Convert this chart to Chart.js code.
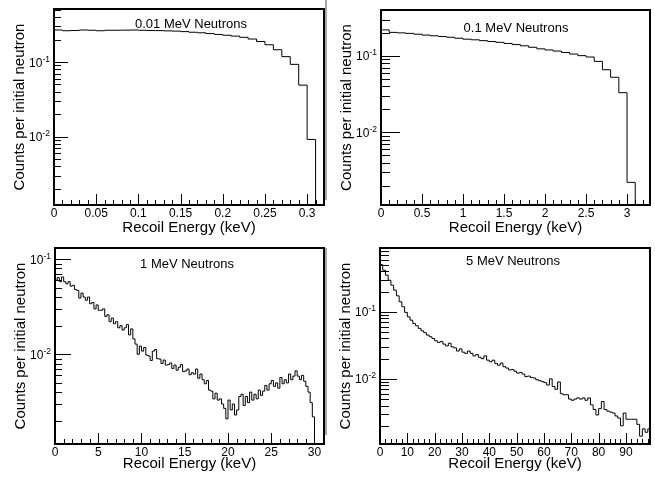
<!DOCTYPE html>
<html>
<head>
<meta charset="utf-8">
<script src="https://cdn.jsdelivr.net/npm/chart.js@4.4.1/dist/chart.umd.min.js"></script>
<style>
  body { margin: 0; background: #fff; }
  #wrap { position: relative; width: 655px; height: 477px; }
  #wrap canvas { position: absolute; left: 0; top: 0; }
  .sep { position: absolute; left: 325px; width: 2px; background: #a8a8a8; z-index: 5; }
</style>
</head>
<body>
<div id="wrap">
  <canvas id="c1" width="655" height="477"></canvas>
  <canvas id="c2" width="655" height="477"></canvas>
  <canvas id="c3" width="655" height="477"></canvas>
  <canvas id="c4" width="655" height="477"></canvas>
  <div class="sep" style="top:0;height:200px"></div>
  <div class="sep" style="top:248px;height:187px"></div>
</div>
<script>
// bin widths (keV)
const binA = 0.01;
const binB = 0.1;
const binC = 0.25;
const binD = 1;

// counts per initial neutron, one value per bin starting at 0 keV
const countsA = [0.268, 0.262, 0.264, 0.268, 0.266, 0.262, 0.266, 0.266, 0.267, 0.268,
  0.266, 0.264, 0.263, 0.261, 0.259, 0.255, 0.250, 0.246, 0.240, 0.234,
  0.228, 0.222, 0.214, 0.203, 0.188, 0.170, 0.146, 0.118, 0.093, 0.049,
  0.0092, 0];

const countsB = [0.220, 0.204, 0.201, 0.198, 0.193, 0.188, 0.184, 0.180, 0.176, 0.171,
  0.166, 0.163, 0.159, 0.155, 0.151, 0.146, 0.141, 0.136, 0.130, 0.124,
  0.120, 0.116, 0.111, 0.106, 0.101, 0.097, 0.085, 0.066, 0.0526, 0.033,
  0.0022, 0, 0];

const countsC = [
  0.060, 0.064, 0.058, 0.065, 0.058, 0.055, 0.058, 0.052,
  0.053, 0.048, 0.047, 0.039, 0.044, 0.040, 0.037, 0.040,
  0.034, 0.035, 0.030, 0.033, 0.029, 0.029, 0.030, 0.025,
  0.026, 0.022, 0.024, 0.021, 0.022, 0.019, 0.020, 0.018,
  0.019, 0.0205, 0.016, 0.0185, 0.0145, 0.0128, 0.0100, 0.0122,
  0.0108, 0.0118, 0.0098, 0.0096, 0.0086, 0.0108, 0.0112, 0.0090,
  0.0089, 0.0080, 0.0087, 0.0077, 0.0078, 0.0081, 0.0071, 0.0077,
  0.0068, 0.0073, 0.0078, 0.0066, 0.0067, 0.0070, 0.0061, 0.0064,
  0.0062, 0.0070, 0.0056, 0.0062, 0.0054, 0.0049, 0.0053, 0.0042,
  0.0041, 0.0034, 0.0039, 0.0033, 0.0034, 0.0030, 0.0027, 0.0021,
  0.0033, 0.0026, 0.0030, 0.0023, 0.0026, 0.0036, 0.0038, 0.0029,
  0.0036, 0.0031, 0.0040, 0.0033, 0.0038, 0.0034, 0.0042, 0.0037,
  0.0041, 0.0047, 0.0042, 0.0049, 0.0053, 0.0046, 0.0050, 0.0044,
  0.0057, 0.0049, 0.0054, 0.0050, 0.0062, 0.0054, 0.0059, 0.0067,
  0.0059, 0.0054, 0.0060, 0.0052, 0.0046, 0.0040, 0.0031, 0.0022,
  0, 0, 0, 0];

const countsD = [0.505, 0.416, 0.351, 0.295, 0.249, 0.210, 0.173, 0.141, 0.119, 0.098,
  0.084, 0.075, 0.067, 0.062, 0.0566, 0.052, 0.0488, 0.045, 0.0425, 0.040,
  0.037, 0.035, 0.036, 0.033, 0.031, 0.034, 0.030, 0.029, 0.026, 0.028,
  0.025, 0.024, 0.026, 0.024, 0.022, 0.023, 0.021, 0.020, 0.022, 0.019,
  0.018, 0.019, 0.017, 0.016, 0.0172, 0.0152, 0.0145, 0.0136, 0.0138, 0.0130,
  0.0122, 0.0125, 0.0118, 0.0108, 0.0110, 0.0105, 0.0103, 0.0097, 0.0094, 0.0091,
  0.0088, 0.0081, 0.0100, 0.0077, 0.0070, 0.0090, 0.0060, 0.0058, 0.0058, 0.0050,
  0.0048, 0.0050, 0.0052, 0.0050, 0.0052, 0.0048, 0.0052, 0.0041, 0.0035, 0.0029,
  0.0036, 0.0046, 0.0035, 0.0033, 0.0032, 0.0031, 0.0028, 0.0026, 0.0020, 0.0031,
  0.0025, 0.0025, 0.0025, 0.0025, 0.0021, 0.0014, 0.0018, 0.0016, 0.0018];

// tick labels
const xLabelsA = ['0', '0.05', '0.1', '0.15', '0.2', '0.25', '0.3'];
const xLabelsB = ['0', '0.5', '1', '1.5', '2', '2.5', '3'];
const xLabelsC = ['0', '5', '10', '15', '20', '25', '30'];
const xLabelsD = ['0', '10', '20', '30', '40', '50', '60', '70', '80', '90'];
const yLabelExps = ['-1', '-2'];

const titles = ['0.01 MeV Neutrons', '0.1 MeV Neutrons', '1 MeV Neutrons', '5 MeV Neutrons'];
const xTitle = 'Recoil Energy (keV)';
const yTitle = 'Counts per initial neutron';

const FONT = '"Liberation Sans", Arial, Helvetica, sans-serif';

const panels = [
  { id: 'c1', counts: countsA, bin: binA, xMax: 0.32, yMin: 0.00122, yMax: 0.512,
    frame: { l: 54, t: 9, r: 324, b: 205 }, xLabels: xLabelsA, minor: 0.01,
    title: titles[0], titleAt: [191, 28], xTitleDy: 27, yMaj: 14, yMinr: 7 },
  { id: 'c2', counts: countsB, bin: binB, xMax: 3.28, yMin: 0.00111, yMax: 0.401,
    frame: { l: 381, t: 10, r: 650, b: 205 }, xLabels: xLabelsB, minor: 0.1,
    title: titles[1], titleAt: [516, 32], xTitleDy: 27, yMaj: 19, yMinr: 9 },
  { id: 'c3', counts: countsC, bin: binC, xMax: 31.1, yMin: 0.00114, yMax: 0.131,
    frame: { l: 55, t: 248, r: 324, b: 444 }, xLabels: xLabelsC, minor: 1,
    title: titles[2], titleAt: [187, 268], xTitleDy: 24, yMaj: 16, yMinr: 7 },
  { id: 'c4', counts: countsD, bin: binD, xMax: 98.8, yMin: 0.00107, yMax: 0.893,
    frame: { l: 380, t: 248, r: 650, b: 444 }, xLabels: xLabelsD, minor: 2,
    title: titles[3], titleAt: [513, 265], xTitleDy: 24, yMaj: 17, yMinr: 9 }
];

// ROOT-like frame, inward ticks and labels
function rootStyle(p) {
  return {
    id: 'rootStyle',
    afterDatasetsDraw(chart) {
      const ctx = chart.ctx, a = chart.chartArea;
      const xs = chart.scales.x, ys = chart.scales.y;
      ctx.save();
      ctx.fillStyle = '#000';

      // x ticks, pointing into the frame
      const majors = p.xLabels.map(Number);
      const n = Math.floor(xs.max / p.minor + 1e-6);
      for (let i = 0; i <= n; i++) {
        const v = i * p.minor;
        const isMajor = majors.some(m => Math.abs(m - v) < p.minor / 10);
        const len = isMajor ? 11 : 5;
        const px = Math.round(xs.getPixelForValue(v));
        ctx.fillRect(px, a.bottom - len, 1, len);
      }
      // y ticks, 1..9 per decade
      const d0 = Math.floor(Math.log10(ys.min)), d1 = Math.ceil(Math.log10(ys.max));
      for (let d = d0; d <= d1; d++) {
        for (let m = 1; m <= 9; m++) {
          const v = m * Math.pow(10, d);
          if (v < ys.min || v > ys.max) continue;
          const py = Math.round(ys.getPixelForValue(v));
          ctx.fillRect(a.left, py, m === 1 ? p.yMaj : p.yMinr, 1);
        }
      }

      ctx.strokeStyle = '#000';
      ctx.lineWidth = 2;
      ctx.strokeRect(a.left, a.top, a.right - a.left, a.bottom - a.top);

      // x tick labels
      ctx.font = '12px ' + FONT;
      ctx.textAlign = 'center';
      ctx.textBaseline = 'alphabetic';
      p.xLabels.forEach(s => {
        ctx.fillText(s, xs.getPixelForValue(Number(s)), a.bottom + 12);
      });
      // y tick labels 10^n
      ctx.textAlign = 'left';
      yLabelExps.forEach(e => {
        const py = ys.getPixelForValue(Math.pow(10, Number(e)));
        ctx.font = '8.5px ' + FONT;
        const we = ctx.measureText(e).width;
        ctx.font = '12px ' + FONT;
        const wb = ctx.measureText('10').width;
        const right = a.left - 4;
        ctx.fillText('10', right - we - wb, py + 4.5);
        ctx.font = '8.5px ' + FONT;
        ctx.fillText(e, right - we, py - 0.5);
      });
      // panel title and axis titles
      ctx.font = '13px ' + FONT;
      ctx.textAlign = 'center';
      ctx.fillText(p.title, p.titleAt[0], p.titleAt[1]);
      ctx.font = '15px ' + FONT;
      ctx.fillText(xTitle, (a.left + a.right) / 2, a.bottom + p.xTitleDy);
      ctx.translate(a.left - 30, (a.top + a.bottom) / 2);
      ctx.rotate(-Math.PI / 2);
      ctx.fillText(yTitle, 0, 0);
      ctx.restore();
    }
  };
}

panels.forEach(p => {
  // one point per bin low edge, plus the closing high edge of the last bin
  const pts = p.counts.map((v, i) => ({ x: i * p.bin, y: v > 0 ? v : p.yMin }));
  const last = p.counts[p.counts.length - 1];
  pts.push({ x: p.counts.length * p.bin, y: last > 0 ? last : p.yMin });
  new Chart(document.getElementById(p.id), {
    type: 'line',
    data: {
      datasets: [{
        data: pts,
        borderColor: '#000',
        borderWidth: 1,
        stepped: 'before',
        pointRadius: 0,
        fill: false
      }]
    },
    options: {
      responsive: false,
      animation: false,
      events: [],
      layout: {
        padding: { left: p.frame.l, top: p.frame.t, right: 655 - p.frame.r, bottom: 477 - p.frame.b }
      },
      scales: {
        x: { type: 'linear', min: 0, max: p.xMax, display: false },
        y: { type: 'logarithmic', min: p.yMin, max: p.yMax, display: false }
      },
      plugins: {
        legend: { display: false },
        tooltip: { enabled: false }
      }
    },
    plugins: [rootStyle(p)]
  });
});
</script>
</body>
</html>
